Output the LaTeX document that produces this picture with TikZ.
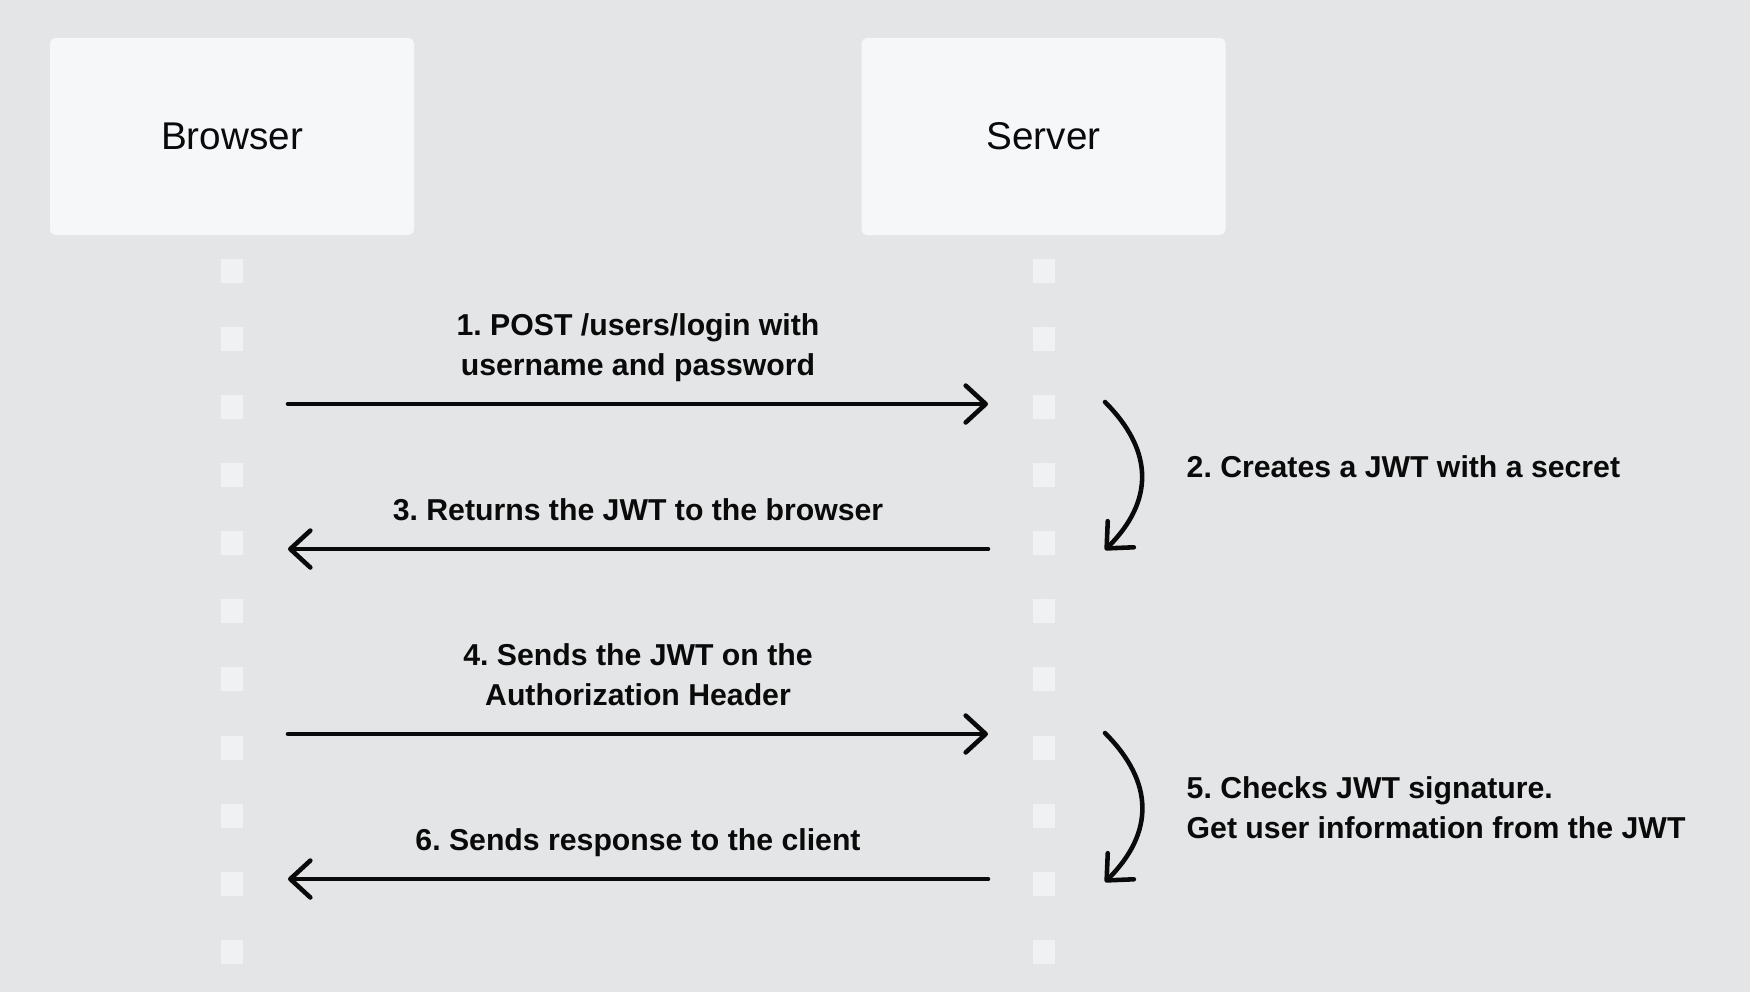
\documentclass[tikz,border=0pt]{standalone}
\usepackage{fontspec}
\setmainfont{Liberation Sans}
\usetikzlibrary{arrows.meta,positioning}

\definecolor{canvas}{HTML}{E4E5E7}
\definecolor{boxfill}{HTML}{F6F7F9}
\definecolor{tickfill}{HTML}{F0F1F3}
\definecolor{ink}{HTML}{0A0A0A}

\frenchspacing

\begin{document}
\begin{tikzpicture}[
  actorbox/.style={rectangle, fill=boxfill, rounded corners=1.5pt, text=ink,
                   minimum width=3.64cm, minimum height=1.97cm,
                   font=\fontsize{11}{13}\selectfont},
  tickbox/.style={rectangle, fill=tickfill, inner sep=0pt,
                  minimum width=0.22cm, minimum height=0.24cm},
  msg/.style={font=\bfseries\fontsize{8.6}{11.4}\selectfont, text=ink,
              align=center, inner sep=0pt, text depth=0pt},
  note/.style={msg, align=left, anchor=west, text depth=},
  call/.style={draw=ink, line width=1.3pt, line cap=round,
               -{Straight Barb[length=5.7pt, width=10.5pt, round]}},
]

% ── Canvas ────────────────────────────────────────────────────────────
\fill[canvas] (0,0) rectangle (17.5,-9.92);
\useasboundingbox (0,0) rectangle (17.5,-9.92);

% ── Actors ────────────────────────────────────────────────────────────
\node[actorbox] (browser) at (2.32,  -1.365) {Browser};
\node[actorbox] (server)  at (10.435,-1.365) {Server};

% ── Lifelines ─────────────────────────────────────────────────────────
\foreach \k in {0,...,10} {
  \node[tickbox] (bl\k) at (2.32,   {-2.705-0.6815*\k}) {};
  \node[tickbox] (sl\k) at (10.435, {-2.705-0.6815*\k}) {};
}

% ── Message ends ──────────────────────────────────────────────────────
\coordinate (b1) at (2.88,-4.04);  \coordinate (s1) at (9.88,-4.04);
\coordinate (b3) at (2.88,-5.49);  \coordinate (s3) at (9.88,-5.49);
\coordinate (b4) at (2.88,-7.34);  \coordinate (s4) at (9.88,-7.34);
\coordinate (b6) at (2.88,-8.79);  \coordinate (s6) at (9.88,-8.79);

\coordinate (c2a) at (11.05,-4.02); \coordinate (c2b) at (11.05,-5.50);
\coordinate (c5a) at (11.05,-7.33); \coordinate (c5b) at (11.05,-8.82);

% ── Messages ──────────────────────────────────────────────────────────
\draw[call] (b1) -- node[msg, above=0.26cm] (m1)
  {1. POST /users/login with\\username and password} (s1);
\draw[call] (s3) -- node[msg, above=0.26cm] (m3)
  {3. Returns the JWT to the browser} (b3);
\draw[call] (b4) -- node[msg, above=0.26cm] (m4)
  {4. Sends the JWT on the\\Authorization Header} (s4);
\draw[call] (s6) -- node[msg, above=0.26cm] (m6)
  {6. Sends response to the client} (b6);

% ── Server side steps ─────────────────────────────────────────────────
\draw[call] (c2a) to[bend left=45, looseness=1.2] (c2b);
\node[note] (m2) at (11.86,-4.67) {2. Creates a JWT with a secret};

\draw[call] (c5a) to[bend left=45, looseness=1.2] (c5b);
\node[note] (m5) at (11.86,-8.08)
  {5. Checks JWT signature.\\Get user information from the JWT};

\end{tikzpicture}
\end{document}
